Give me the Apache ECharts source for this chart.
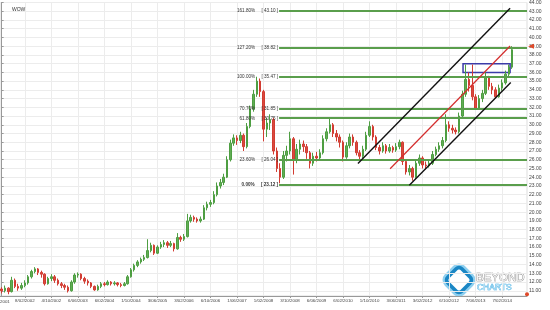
<!DOCTYPE html>
<html><head><meta charset="utf-8">
<script src="https://cdn.jsdelivr.net/npm/echarts@6/dist/echarts.min.js"></script>
<style>html,body{margin:0;padding:0;background:#fff}#c{width:550px;height:310px}</style>
</head><body><div id="c"></div>
<script>
// Monthly candles, x value = months since Jul 2001
const opens = [11.2,11.0,11.3,10.9,12.2,11.5,11.3,11.6,11.9,12.6,13.2,13.5,13.1,12.9,11.8,12.4,12.6,12.2,11.8,11.6,
11.4,11.0,12.0,12.8,12.9,12.4,12.1,11.9,11.5,11.1,11.5,11.8,11.7,12.0,11.8,11.9,11.7,11.6,11.8,12.6,
13.4,13.9,14.3,14.6,14.8,15.6,16.2,15.3,16.0,16.3,16.5,16.2,16.4,15.8,17.1,16.9,17.2,19.0,19.4,19.2,
19.0,19.2,20.5,20.9,21.1,22.0,23.0,23.4,24.0,26.0,27.9,28.5,28.2,28.8,27.5,29.8,31.8,33.5,35.0,33.8,
29.5,30.2,30.6,27.0,25.0,24.0,26.5,27.0,28.4,26.0,27.2,27.8,27.5,26.8,25.6,26.4,26.2,26.8,28.4,29.2,
30.0,29.0,28.6,28.0,26.3,27.6,28.6,28.0,26.8,26.4,27.2,28.8,29.8,28.6,27.4,27.0,27.6,27.0,27.4,27.1,
27.5,28.0,25.8,24.6,25.0,24.0,25.6,26.2,25.4,25.3,25.6,26.6,27.2,27.6,28.2,30.0,29.6,29.4,29.2,31.0,
33.5,35.2,34.5,33.2,31.9,33.0,33.6,35.4,34.4,34.0,33.2,34.2,34.8,35.8,36.6];
const closes = [11.0,11.3,10.9,12.2,11.5,11.3,11.6,11.9,12.6,13.2,13.5,13.1,12.9,11.8,12.4,12.6,12.2,11.8,11.6,11.4,
11.0,12.0,12.8,12.9,12.4,12.1,11.9,11.5,11.1,11.5,11.8,11.7,12.0,11.8,11.9,11.7,11.6,11.8,12.6,13.4,
13.9,14.3,14.6,14.8,15.6,16.2,15.3,16.0,16.3,16.5,16.2,16.4,15.8,17.1,16.9,17.2,19.0,19.4,19.2,19.0,
19.2,20.5,20.9,21.1,22.0,23.0,23.4,24.0,26.0,27.9,28.5,28.2,28.8,27.5,29.8,31.8,33.5,35.0,33.8,29.5,
30.2,30.6,27.0,25.0,24.0,26.5,27.0,28.4,26.0,27.2,27.8,27.5,26.8,25.6,26.4,26.2,26.8,28.4,29.2,30.0,
29.0,28.6,28.0,26.3,27.6,28.6,28.0,26.8,26.4,27.2,28.8,29.8,28.6,27.4,27.0,27.6,27.0,27.4,27.1,27.5,
28.0,25.8,24.6,25.0,24.0,25.6,26.2,25.4,25.3,25.6,26.6,27.2,27.6,28.2,30.0,29.6,29.4,29.2,31.0,33.5,
35.2,34.5,33.2,31.9,33.0,33.6,35.4,34.4,34.0,33.2,34.2,34.8,35.8,36.6,38.6];
const lows = [10.7,10.8,10.6,10.8,11.3,11.0,11.1,11.4,11.7,12.4,13.0,12.8,12.5,11.6,11.7,12.1,11.9,11.6,11.3,11.1,
10.8,10.9,11.8,12.5,12.2,11.8,11.6,11.3,11.0,11.0,11.3,11.5,11.6,11.6,11.6,11.5,11.4,11.5,11.7,12.5,
13.2,13.7,14.1,14.4,14.7,15.4,15.1,15.2,15.8,16.0,15.9,16.0,15.5,15.7,16.6,16.7,17.1,18.8,18.9,18.8,
18.8,19.1,20.2,20.6,20.9,21.8,22.7,23.1,23.9,25.8,27.6,27.7,27.9,27.0,27.3,29.6,31.5,33.2,33.2,28.1,
28.6,29.4,26.6,24.6,23.3,23.8,25.8,26.6,24.3,25.6,26.6,26.9,26.1,25.0,25.3,25.8,25.9,26.6,28.1,29.0,
28.6,28.1,27.4,25.8,26.1,27.3,27.6,26.5,26.0,26.2,27.0,28.6,28.2,27.1,26.6,26.8,26.7,26.8,26.8,26.9,
27.2,25.4,24.3,24.2,23.6,23.8,25.3,25.0,24.9,25.1,25.4,26.4,26.9,27.3,28.0,29.2,29.0,28.9,29.0,30.8,
33.2,33.8,32.8,31.7,31.8,32.6,33.4,34.0,33.5,33.0,33.1,33.9,34.6,35.5,36.4];
const highs = [11.4,11.6,11.4,12.6,12.4,11.8,11.9,12.2,12.8,13.4,13.7,13.6,13.3,13.0,12.6,12.9,12.8,12.4,12.0,11.8,
11.6,12.2,13.0,13.1,13.0,12.6,12.3,12.0,11.6,11.7,12.0,12.0,12.2,12.1,12.1,12.0,11.9,12.0,12.8,13.6,
14.1,14.5,14.8,15.1,16.9,16.5,16.3,16.2,16.6,16.8,16.7,16.7,16.5,17.6,17.3,17.5,19.8,19.7,19.6,19.4,
19.5,20.8,21.2,21.4,22.4,23.4,23.8,24.4,26.4,28.3,28.9,28.8,29.2,29.0,30.2,32.2,34.0,35.5,35.3,34.0,
30.8,31.2,30.8,27.4,25.6,27.0,27.6,29.2,28.6,27.8,28.3,28.2,27.8,27.0,26.8,26.9,27.2,28.8,29.6,30.7,
30.2,29.4,28.9,28.2,28.0,29.0,28.9,28.2,27.1,27.6,29.2,30.4,30.0,28.8,27.7,28.0,27.8,27.8,27.6,27.9,
28.3,28.1,26.0,25.4,25.2,26.0,26.6,26.4,25.8,26.0,27.0,27.5,28.0,28.6,31.2,30.4,30.0,29.7,31.4,33.9,
36.9,36.0,36.9,33.5,33.4,34.0,36.0,35.6,34.8,34.3,34.6,35.2,36.2,36.9,39.0];

const xTickPos = [7,15,23,31,39,47,55,63,71,79,87,95,103,111,119,127,135,143,151];
const xTickLabels = ['8/02/2002','4/10/2002','6/06/2003','6/02/2004','1/10/2004','3/06/2005','3/02/2006',
'6/10/2006','1/06/2007','1/02/2008','3/10/2008','6/06/2009','6/02/2010','1/10/2010','3/06/2011',
'3/02/2012','6/10/2012','7/06/2013','7/02/2014'];
const firstTickLabel = '2001';
const yTicks = [11,12,13,14,15,16,17,18,19,20,21,22,23,24,25,26,27,28,29,30,31,32,33,34,35,36,37,38,39,40,41,42,43,44];

const fibLevels = [43.10,38.82,35.47,31.85,30.75,26.04,23.12];
const fibPcts = ['161.80%','127.20%','100.00%','70.70%','61.80%','23.60%','0.00%'];
const fibFrom = 83.7, fibTo = 158.5;

const upperChannel = [[107.5,25.58],[153.4,43.35]];
const lowerChannel = [[123.0,23.07],[153.6,34.84]];
const midChannel = [[117.2,24.97],[153.4,39.02]];
const boxRange = [[139.2,36.0],[153.4,37.0]];
const lastPriceMark = [158.5, 39.0];
const lowMark = [158.5, 10.6];

const candles = closes.map((c,i)=>[i, opens[i], c, lows[i], highs[i]]);

const fibLines = fibLevels.map((lv,k)=>[
  {coord:[fibFrom, lv], lineStyle:{color:'#5a9e4c', width:2, type:'solid'},
   label:{show:true, position:'start', distance:1, fontSize:4.6, color:'#333', padding:[0,0,5,0],
     fontFamily:'Arial',
     fontWeight: k===fibLevels.length-1 ? 'bold' : 'normal',
     formatter: fibPcts[k] + '     [ ' + lv.toFixed(2) + ' ]'}},
  {coord:[fibTo, lv]}
]);
const chLine = (pts,color,w)=>[
  {coord:pts[0], lineStyle:{color:color,width:w,type:'solid'}, label:{show:false}},
  {coord:pts[1]}
];

const chart = echarts.init(document.getElementById('c'), null, {renderer:'canvas'});
chart.setOption({
  animation:false,
  backgroundColor:'#fff',
  title:{text:'WOW', left:7, top:2, textStyle:{fontSize:5, fontWeight:'normal', color:'#333', fontFamily:'Arial'}},
  grid:{left:0, right:23, top:1, bottom:14, show:true, borderColor:'#ddd', borderWidth:1},
  xAxis:{
    type:'value', min:-0.5, max:158.5,
    axisLine:{show:true, lineStyle:{color:'#999'}},
    axisTick:{show:true, length:2, customValues:xTickPos, lineStyle:{color:'#999'}},
    axisLabel:{customValues:xTickPos, fontSize:4.4, color:'#444', margin:3, fontFamily:'Arial',
      formatter:(v)=>{const k=xTickPos.indexOf(Math.round(v)); return k>=0?xTickLabels[k]:'';}},
    splitLine:{show:true, lineStyle:{color:'#ececec'}}
  },
  yAxis:{
    type:'value', position:'right', min:10.4, max:44, scale:true,
    axisLine:{show:true, lineStyle:{color:'#999'}},
    axisTick:{show:true, length:2, customValues:yTicks, lineStyle:{color:'#999'}},
    axisLabel:{customValues:yTicks, fontSize:5, color:'#444', margin:2, fontFamily:'Arial',
      formatter:(v)=>v.toFixed(2)},
    splitLine:{show:true, lineStyle:{color:'#ececec'}}
  },
  graphic:[
    {type:'text', left:0, top:300, style:{text:firstTickLabel, fontSize:4.4, fill:'#444', fontFamily:'Arial'}},
    {type:'group', children:[
      {type:'rect', x:459, y:280, rotation:Math.PI/4, shape:{x:-11,y:-11,width:22,height:22,r:5},
        style:{fill:'none', stroke:'#8fd0f0', lineWidth:6}},
      {type:'rect', x:459, y:280, rotation:Math.PI/4, shape:{x:-10,y:-10,width:20,height:20,r:4},
        style:{fill:'none', stroke:'#1a86c4', lineWidth:3.5}},
      {type:'text', x:476, y:272, style:{text:'BEYOND', font:'11.5px "Liberation Sans"', fill:'#f4f4f4', stroke:'#7a7a7a', lineWidth:0.7}},
      {type:'text', x:477, y:283, style:{text:'CHARTS', font:'8.5px "Liberation Sans"', fill:'#bfe6f8', stroke:'#3aa8e0', lineWidth:0.6}}
    ]}
  ],
  series:[{
    type:'candlestick',
    data:candles,
    barWidth:2,
    itemStyle:{color:'#62ad55', color0:'#d94a3f', borderColor:'#4e9e42', borderColor0:'#d23c32', borderWidth:1},
    markPoint:{
      silent:true, label:{show:false}, animation:false,
      data:[
        {coord:lastPriceMark, symbol:'triangle', symbolSize:[5,6], symbolRotate:90, symbolOffset:[4,0], itemStyle:{color:'#e04a2a'}},
        {coord:lowMark, symbol:'circle', symbolSize:4, itemStyle:{color:'#e04a2a'}}
      ]
    },
    markLine:{
      silent:true, symbol:['none','none'], animation:false,
      data: fibLines.concat([
        chLine(upperChannel,'#111',1.4),
        chLine(lowerChannel,'#111',1.4),
        chLine(midChannel,'#d42e2e',1.2)
      ])
    },
    markArea:{
      silent:true,
      itemStyle:{color:'rgba(0,0,0,0)', borderColor:'#3c3ca8', borderWidth:1.5},
      data:[[{coord:boxRange[0]},{coord:boxRange[1]}]]
    }
  }]
});
</script></body></html>
